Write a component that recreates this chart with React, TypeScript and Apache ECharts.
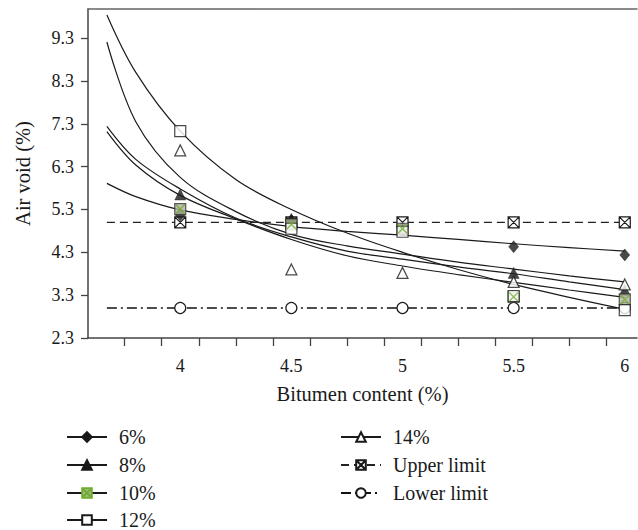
import React, { useEffect, useRef } from "react";
import * as echarts from "echarts";

// Measured data (bitumen content vs air void)
const bitumen = [4, 4.5, 5, 5.5, 6];
const void6 = [5.17, 5.05, 4.82, 4.43, 4.24];
const void8 = [5.65, 5.08, 4.85, 3.82, 3.42];
const void10 = [5.31, 4.95, 4.85, 3.26, 3.2];
const void12 = [7.13, 4.85, 4.78, 3.28, 2.95];
const void14 = [6.68, 3.9, 3.82, 3.61, 3.55];
const upperLimit = [5, 5, 5, 5, 5];
const lowerLimit = [3, 3, 3, 3, 3];

// Trend curves
const fitX = [3.67, 3.8, 4.0, 4.25, 4.5, 4.75, 5.0, 5.25, 5.5, 5.75, 6.0];
const fit6 = [5.91, 5.6, 5.29, 5.07, 4.9, 4.79, 4.7, 4.6, 4.5, 4.41, 4.33];
const fit8 = [7.24, 6.47, 5.78, 5.1, 4.66, 4.33, 4.14, 3.96, 3.8, 3.61, 3.43];
const fit10 = [7.12, 6.34, 5.63, 5.08, 4.6, 4.22, 3.98, 3.78, 3.6, 3.42, 3.25];
const fit12 = [9.84, 8.5, 7.13, 6.0, 5.3, 4.75, 4.3, 3.9, 3.55, 3.25, 2.97];
const fit14 = [9.21, 7.35, 6.05, 5.25, 4.72, 4.45, 4.26, 4.07, 3.91, 3.75, 3.61];
const limitStartX = 3.67;

// Axis ticks and labels
const yTickLabels = [2.3, 3.3, 4.3, 5.3, 6.3, 7.3, 8.3, 9.3];
const xTickLabels = [4, 4.5, 5, 5.5, 6];
const xMinorTicks = [3.75, 3.9167, 4.0833, 4.25, 4.4167, 4.5833, 4.75, 4.9167, 5.0833, 5.25, 5.4167, 5.5833, 5.75, 5.9167];

const FONT = "Liberation Serif";
const INK = "#1a1a1a";
const GREEN = "#6fae2c";
const SQX = "path://M0,0H10V10H0Z M0,0L10,10 M10,0L0,10";
const XMARK = "path://M0,0L10,10 M10,0L0,10";

export default function App() {
  const ref = useRef<HTMLDivElement>(null);
  useEffect(() => {
    document.body.style.margin = "0";
    const chart = echarts.init(ref.current!, undefined, { renderer: "svg" });
    const pts = (xs: number[], ys: number[]) => xs.map((x, i) => [x, ys[i]]);
    const groups = [
      { name: "6%", fit: fit6, v: void6, symbol: "diamond", size: [10, 12], style: { color: INK, borderColor: INK, borderWidth: 0.5 } },
      { name: "8%", fit: fit8, v: void8, symbol: "triangle", size: 11, style: { color: INK, borderColor: INK, borderWidth: 0.5 } },
      { name: "10%", fit: fit10, v: void10, symbol: "rect", size: 11, style: { color: "#b2b2a2", borderColor: "#333", borderWidth: 1.2 } },
      { name: "12%", fit: fit12, v: void12, symbol: "rect", size: 11, style: { color: "#fff", borderColor: INK, borderWidth: 1.2 } },
      { name: "14%", fit: fit14, v: void14, symbol: "triangle", size: 11, style: { color: "#fff", borderColor: INK, borderWidth: 1.2 } },
    ];
    const series: any[] = [];
    groups.forEach((g) => {
      series.push({
        type: "line",
        name: g.name,
        data: pts(fitX, g.fit),
        symbol: g.name === "10%" ? SQX : g.symbol,
        symbolSize: g.size,
        showSymbol: false,
        smooth: 0.35,
        lineStyle: { color: INK, width: 1.2 },
        itemStyle: g.name === "10%" ? { color: "#b2b2a2", borderColor: GREEN, borderWidth: 1.2 } : g.style,
        z: 2,
        silent: true,
      });
    });
    series.push({
      type: "line",
      name: "Upper limit",
      data: [{ value: [limitStartX, upperLimit[0]], symbol: "none" }, ...pts(bitumen, upperLimit)],
      symbol: SQX,
      symbolSize: 11,
      lineStyle: { color: "#222", width: 1.2, type: [8, 5] },
      itemStyle: { color: "#fff", borderColor: INK, borderWidth: 1.2 },
      z: 3,
    });
    series.push({
      type: "line",
      name: "Lower limit",
      data: [{ value: [limitStartX, lowerLimit[0]], symbol: "none" }, ...pts(bitumen, lowerLimit)],
      symbol: "circle",
      symbolSize: 11,
      lineStyle: { color: "#111", width: 1.3, type: [10, 4, 2, 4] },
      itemStyle: { color: "#fff", borderColor: INK, borderWidth: 1.2 },
      z: 3,
    });
    groups.forEach((g) => {
      series.push({
        type: "scatter",
        name: g.name,
        data: pts(bitumen, g.v),
        symbol: g.symbol,
        symbolSize: g.size,
        itemStyle: g.style,
        z: 5,
      });
      if (g.name === "10%") {
        series.push({
          type: "scatter",
          name: g.name,
          data: pts(bitumen, g.v),
          symbol: XMARK,
          symbolSize: 9,
          itemStyle: { color: "none", borderColor: GREEN, borderWidth: 1.4 },
          z: 6,
        });
      }
    });

    const legendCommon = {
      orient: "vertical" as const,
      itemWidth: 40,
      itemHeight: 12,
      itemGap: 8,
      padding: 0,
      textStyle: { fontFamily: FONT, fontSize: 20, color: INK, padding: [0, 0, 0, 7] },
      selectedMode: false,
    };

    chart.setOption({
      animation: false,
      backgroundColor: "#fff",
      textStyle: { fontFamily: FONT },
      grid: { left: 88, top: 9, right: 1, bottom: 192 },
      xAxis: [
        {
          type: "value",
          min: 3.585,
          max: 6.055,
          name: "Bitumen content (%)",
          nameLocation: "middle",
          nameGap: 45,
          nameTextStyle: { fontFamily: FONT, fontSize: 20.5, color: INK },
          axisLine: { show: true, lineStyle: { color: "#444", width: 1.5 } },
          axisTick: { show: true, customValues: xMinorTicks, length: 8, lineStyle: { color: "#444", width: 1.3 } },
          axisLabel: { customValues: xTickLabels, fontFamily: FONT, fontSize: 18, color: INK, margin: 19 },
          splitLine: { show: false },
        },
        {
          type: "value",
          position: "top",
          min: 3.585,
          max: 6.055,
          axisLine: { show: true, onZero: false, lineStyle: { color: "#666", width: 1.5 } },
          axisTick: { show: false },
          axisLabel: { show: false },
          splitLine: { show: false },
        },
      ],
      yAxis: {
        type: "value",
        min: 2.3,
        max: 9.98,
        name: "Air void (%)",
        nameLocation: "middle",
        nameGap: 55,
        nameTextStyle: { fontFamily: FONT, fontSize: 20.5, color: INK },
        axisLine: { show: true, lineStyle: { color: "#444", width: 1.5 } },
        axisTick: { show: true, customValues: yTickLabels, length: 7, lineStyle: { color: "#444", width: 1.3 } },
        axisLabel: {
          customValues: yTickLabels,
          fontFamily: FONT,
          fontSize: 18,
          color: INK,
          margin: 14,
          formatter: (v: number) => v.toFixed(1),
        },
        splitLine: { show: false },
      },
      legend: [
        { ...legendCommon, left: 66, top: 427, data: ["6%", "8%", "10%"] },
        { ...legendCommon, left: 66, top: 510, data: ["12%"] },
        { ...legendCommon, left: 340, top: 427, data: ["14%", "Upper limit", "Lower limit"] },
      ],
      series,
    });
    return () => chart.dispose();
  }, []);
  return <div ref={ref} style={{ position: "fixed", left: 0, top: 0, width: 638, height: 530 }} />;
}
